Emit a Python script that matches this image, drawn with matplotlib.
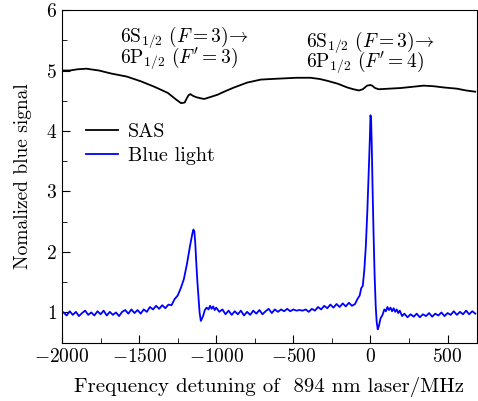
import matplotlib
matplotlib.use("Agg")
import matplotlib.pyplot as plt
from matplotlib.ticker import MultipleLocator

plt.rcParams["font.family"] = "cmr10"
plt.rcParams["mathtext.fontset"] = "cm"
plt.rcParams["axes.formatter.use_mathtext"] = True

# SAS trace (black)
sas_x = [-1995, -1950, -1900, -1842, -1760, -1681, -1580, -1487, -1400, -1314,
         -1260, -1228, -1205, -1195, -1180, -1168, -1150, -1131, -1100, -1077,
         -1040, -991, -940, -884, -800, -711, -640, -560, -480, -388,
         -330, -280, -210, -151, -110, -75, -50, -22, 0, 11,
         30, 54, 120, 194, 270, 345, 410, 474, 560, 620, 679]
sas_y = [5.00, 5.00, 5.02, 5.03, 5.00, 4.95, 4.90, 4.82, 4.73, 4.63,
         4.52, 4.46, 4.47, 4.52, 4.59, 4.61, 4.58, 4.56, 4.54, 4.53,
         4.56, 4.60, 4.66, 4.72, 4.80, 4.85, 4.86, 4.87, 4.88, 4.88,
         4.86, 4.83, 4.78, 4.72, 4.69, 4.67, 4.69, 4.75, 4.76, 4.75,
         4.71, 4.69, 4.70, 4.71, 4.73, 4.75, 4.74, 4.72, 4.70, 4.67, 4.65]

# blue light trace
blue_x = [-1990, -1970, -1950, -1930, -1910, -1890, -1870, -1850, -1830, -1810,
          -1790, -1770, -1750, -1730, -1710, -1690, -1670, -1650, -1630, -1610,
          -1590, -1570, -1550, -1530, -1510, -1490, -1470, -1450, -1430, -1410,
          -1390, -1370, -1350, -1330, -1310, -1290, -1270, -1250, -1230, -1210,
          -1190, -1170, -1155, -1148, -1142, -1136, -1130, -1122, -1115, -1108,
          -1100, -1092, -1084, -1074, -1062, -1050, -1040, -1030, -1020, -1010,
          -1000, -980, -960, -940, -920, -900, -880, -860, -840, -820,
          -800, -780, -760, -740, -720, -700, -680, -660, -640, -620,
          -600, -580, -560, -540, -520, -500, -480, -460, -440, -420,
          -400, -380, -360, -340, -320, -300, -280, -260, -240, -220,
          -200, -180, -160, -140, -120, -100, -85, -70, -60, -50,
          -40, -30, -20, -12, -5, 0, 4, 8, 14, 20,
          27, 34, 40, 47, 55, 65, 78, 90, 100, 110,
          120, 130, 140, 150, 160, 170, 180, 190, 205, 220,
          240, 260, 280, 300, 320, 340, 360, 380, 400, 420,
          440, 460, 480, 500, 520, 540, 560, 580, 600, 620,
          640, 660, 680]
blue_y = [1.00, 0.95, 1.02, 0.96, 1.01, 0.94, 0.99, 1.03, 0.96, 1.00,
          0.95, 1.02, 0.97, 1.03, 0.95, 1.01, 0.96, 1.00, 0.94, 1.01,
          1.04, 0.98, 1.05, 0.99, 1.04, 0.98, 1.05, 1.01, 1.09, 1.05,
          1.11, 1.06, 1.12, 1.07, 1.13, 1.12, 1.22, 1.28, 1.40, 1.55,
          1.80, 2.10, 2.30, 2.37, 2.34, 2.15, 1.85, 1.50, 1.25, 1.00,
          0.86, 0.90, 0.95, 1.04, 1.08, 1.05, 1.11, 1.06, 1.10, 1.04,
          1.08, 1.01, 1.05, 0.97, 1.03, 0.96, 1.02, 0.97, 1.03, 0.95,
          1.01, 0.96, 1.03, 0.98, 1.04, 0.97, 1.02, 1.06, 0.99, 1.05,
          1.01, 1.05, 1.02, 1.06, 1.02, 1.05, 1.03, 1.04, 1.03, 1.05,
          1.01, 1.06, 1.03, 1.09, 1.05, 1.11, 1.07, 1.13, 1.08, 1.14,
          1.09, 1.15, 1.10, 1.16, 1.11, 1.14, 1.22, 1.28, 1.40, 1.44,
          1.70, 2.10, 2.70, 3.30, 3.80, 4.26, 4.20, 3.80, 3.00, 2.30,
          1.60, 1.10, 0.85, 0.72, 0.78, 0.90, 0.96, 1.05, 1.02, 1.09,
          1.04, 1.08, 1.02, 1.07, 1.01, 1.05, 0.99, 1.03, 0.94, 0.98,
          0.92, 0.97, 0.93, 0.98, 0.92, 0.97, 0.94, 0.99, 0.93, 0.98,
          0.95, 1.00, 0.94, 0.99, 0.96, 1.02, 0.96, 1.01, 0.97, 1.03,
          0.97, 1.02, 0.98]

fig = plt.figure(figsize=(4.78, 4.01), dpi=100)
ax = fig.add_axes([0.1297, 0.1454, 0.868, 0.8296])

ax.plot(sas_x, sas_y, color="black", lw=1.3, label="SAS")
ax.plot(blue_x, blue_y, color="#0000ff", lw=1.3, label="Blue light")

ax.set_xlim(-2000, 690)
ax.set_ylim(0.5, 6)
ax.xaxis.set_major_locator(MultipleLocator(500))
ax.xaxis.set_minor_locator(MultipleLocator(250))
ax.yaxis.set_major_locator(MultipleLocator(1))
ax.yaxis.set_minor_locator(MultipleLocator(0.5))
ax.tick_params(which="both", direction="in", labelsize=14)
ax.tick_params(which="major", length=6)
ax.tick_params(which="minor", length=3.5)

ax.set_xlabel("Frequency detuning of  894 nm laser/MHz", fontsize=15, labelpad=8)
ax.set_ylabel("Nomalized blue signal", fontsize=14, labelpad=10)

ann_size = 14
ax.text(0.14, 0.918, r"$\mathrm{6S}_{1/2}\ (F=3)\!\rightarrow$", transform=ax.transAxes,
        fontsize=ann_size, va="center")
ax.text(0.14, 0.855, r"$\mathrm{6P}_{1/2}\ (F'=3)$", transform=ax.transAxes,
        fontsize=ann_size, va="center")
ax.text(0.588, 0.905, r"$\mathrm{6S}_{1/2}\ (F=3)\!\rightarrow$", transform=ax.transAxes,
        fontsize=ann_size, va="center")
ax.text(0.588, 0.842, r"$\mathrm{6P}_{1/2}\ (F'=4)$", transform=ax.transAxes,
        fontsize=ann_size, va="center")

ax.legend(loc="center left", bbox_to_anchor=(0.039, 0.597), borderaxespad=0,
          frameon=False, fontsize=14.5, handlelength=1.6, handletextpad=0.45,
          labelspacing=0.28)

fig.savefig("out.png", dpi=100)
